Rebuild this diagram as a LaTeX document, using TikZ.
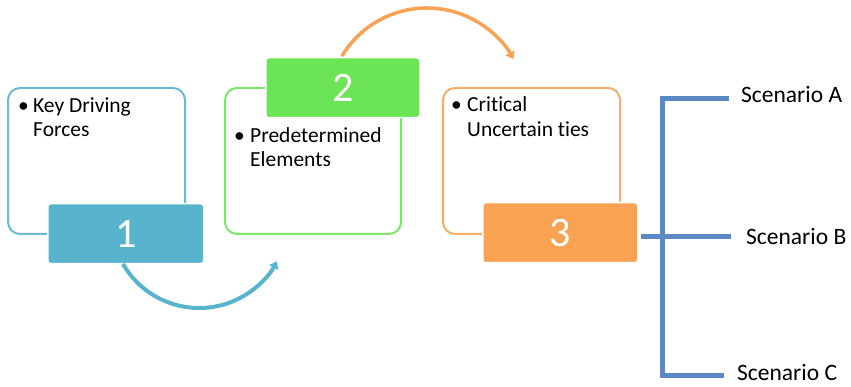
\documentclass[tikz,border=0pt]{standalone}
\usepackage{fontspec}
\setmainfont[Ligatures=NoCommon]{Carlito}
\usetikzlibrary{arrows.meta}
\definecolor{bluefill}{HTML}{57B4CC}
\definecolor{blueline}{HTML}{6CBAD2}
\definecolor{greenfill}{HTML}{6BE556}
\definecolor{greenline}{HTML}{7FE66C}
\definecolor{orangefill}{HTML}{F9A253}
\definecolor{orangeline}{HTML}{F7AD68}
\definecolor{bracketblue}{HTML}{5A89C6}
\tikzset{
  outlinebox/.style={draw, line width=2pt, rounded corners=12pt, anchor=north west, inner sep=0pt},
  numbox/.style={draw=white, line width=1.5pt, rounded corners=3pt, anchor=north west, inner sep=0pt,
    minimum width=156pt, minimum height=60pt, text=white, font=\fontsize{42}{46}\selectfont},
  bodytext/.style={anchor=base west, inner sep=0pt, font=\fontsize{21.5}{25}\selectfont},
  scentext/.style={anchor=west, inner sep=0pt, font=\fontsize{23.5}{27}\selectfont},
  flowarrow/.style={line width=4pt, -{Triangle[length=7pt,width=10pt]}},
  bracket/.style={draw=bracketblue, line width=5pt}
}
\begin{document}
\begin{tikzpicture}[x=1pt,y=-1pt]
\useasboundingbox (0,0) rectangle (851,387);
% outline boxes
\node[outlinebox, draw=blueline, minimum width=177pt, minimum height=146pt] (o1) at (7,87) {};
\node[outlinebox, draw=greenline, minimum width=176pt, minimum height=146pt] (o2) at (224,87) {};
\node[outlinebox, draw=orangeline, minimum width=177pt, minimum height=146pt] (o3) at (442,87) {};
% body texts
\node[bodytext] (b1) at (18,113) {\textbullet};
\node[bodytext] (t1a) at (33,113) {Key Driving};
\node[bodytext] (t1b) at (33,137) {Forces};
\node[bodytext] (b2) at (234,143) {\textbullet};
\node[bodytext] (t2a) at (250,143) {Predetermined};
\node[bodytext] (t2b) at (250,167) {Elements};
\node[bodytext] (b3) at (451,112) {\textbullet};
\node[bodytext] (t3a) at (467,112) {Critical};
\node[bodytext] (t3b) at (467,137) {Uncertain ties};
% number boxes
\node[numbox, fill=bluefill] (n1) at (47,203) {1};
\node[numbox, fill=greenfill, minimum width=154pt] (n2) at (265,57) {2};
\node[numbox, fill=orangefill, minimum width=155pt] (n3) at (482,202) {3};
% arrows
\coordinate (a1s) at (123,264);
\coordinate (a2s) at (342,56);
\draw[flowarrow, draw=bluefill] (a1s) arc[start angle=150, end angle=28, radius=88];
\draw[flowarrow, draw=orangefill, line width=3.5pt] (a2s) arc[start angle=211, end angle=331, radius=99];
% bracket
\coordinate (ba) at (729,99);
\coordinate (bt) at (662,99);
\coordinate (bb) at (662,375);
\coordinate (bc) at (724,375);
\coordinate (bm1) at (641,237);
\coordinate (bm2) at (731,237);
\draw[bracket] (ba) -- (bt) -- (bb) -- (bc);
\draw[bracket] (bm1) -- (bm2);
% scenario labels
\node[scentext] (sa) at (741,95) {Scenario A};
\node[scentext] (sb) at (746,237) {Scenario B};
\node[scentext] (sc) at (737,373) {Scenario C};
\end{tikzpicture}
\end{document}
